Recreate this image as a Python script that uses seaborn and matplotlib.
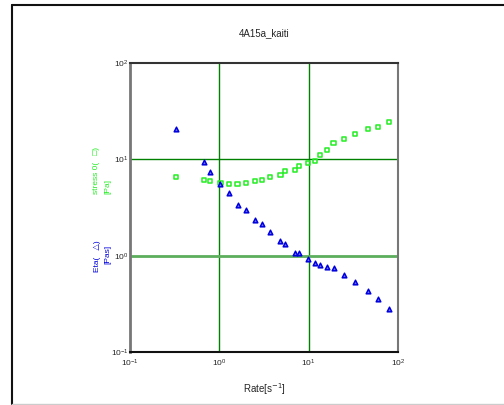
import numpy as np
import pandas as pd
import seaborn as sns
from matplotlib import pyplot as plt
from matplotlib.lines import Line2D
from matplotlib.ticker import LogLocator, LogFormatterMathtext, NullFormatter

rate = [0.327, 0.68, 0.787, 1.03, 1.27, 1.60, 1.99, 2.49, 2.98, 3.70, 4.83, 5.49,
        7.05, 7.86, 9.77, 11.7, 13.4, 15.9, 19.0, 25.0, 33.0, 45.8, 60.1, 79.7]
eta = [20.7, 9.4, 7.45, 5.6, 4.48, 3.38, 2.95, 2.33, 2.11, 1.78, 1.42, 1.32,
       1.06, 1.07, 0.93, 0.84, 0.80, 0.76, 0.745, 0.63, 0.53, 0.43, 0.355, 0.28]
stress = [6.56, 6.15, 6.0, 5.69, 5.55, 5.55, 5.72, 6.0, 6.15, 6.56, 6.93, 7.5,
          7.69, 8.6, 9.1, 9.7, 11.0, 12.6, 14.7, 16.2, 18.5, 20.5, 21.7, 24.2]

df = pd.DataFrame({'rate': rate, 'eta': eta, 'stress': stress})

sns.set_style('white')
plt.rcParams['font.family'] = ['Liberation Sans', 'DejaVu Sans']

fig = plt.figure(figsize=(5.04, 4.05), dpi=100)
ax = fig.add_axes([130 / 504, 1 - 352 / 405, 268 / 504, 289 / 405])

ax.set_xscale('log')
ax.set_yscale('log')
ax.set_xlim(0.1, 100)
ax.set_ylim(0.1, 100)

# green major grid
for v in [1, 10]:
  ax.axvline(v, color='#008000', lw=1, zorder=1)
ax.axhline(10, color='#008000', lw=1, zorder=1)
ax.axhline(1, color='#5cae5c', lw=2, zorder=1)

sns.scatterplot(data=df, x='rate', y='stress', marker='s', s=9, facecolor='none',
                edgecolor='#22ee22', linewidth=1.1, ax=ax, zorder=3)
sns.scatterplot(data=df, x='rate', y='eta', marker='^', s=11, color='#6f6fff',
                edgecolor='#0000dd', linewidth=1.1, ax=ax, zorder=3)

ax.xaxis.set_major_locator(LogLocator(base=10, numticks=10))
ax.yaxis.set_major_locator(LogLocator(base=10, numticks=10))
ax.xaxis.set_minor_locator(LogLocator(base=10, subs=np.arange(2, 10), numticks=20))
ax.yaxis.set_minor_locator(LogLocator(base=10, subs=np.arange(2, 10), numticks=20))
ax.xaxis.set_major_formatter(LogFormatterMathtext())
ax.yaxis.set_major_formatter(LogFormatterMathtext())
ax.xaxis.set_minor_formatter(NullFormatter())
ax.yaxis.set_minor_formatter(NullFormatter())
ax.tick_params(which='both', direction='in', labelsize=6, color='#222222', width=1)
ax.tick_params(which='major', length=3)
ax.tick_params(axis='x', which='major', pad=4)
ax.tick_params(axis='y', which='major', pad=1)
ax.tick_params(which='minor', length=2)

ax.spines['left'].set_color('#777777')
ax.spines['left'].set_linewidth(2)
ax.spines['right'].set_color('#777777')
ax.spines['right'].set_linewidth(1.5)
ax.spines['top'].set_color('#333333')
ax.spines['top'].set_linewidth(1.5)
ax.spines['bottom'].set_color('#111111')
ax.spines['bottom'].set_linewidth(1.5)

ax.set_xlabel('Rate[s$^{-1}$]', fontsize=7, labelpad=9)
ax.set_ylabel('')
ax.set_title('4A15a_kaiti', fontsize=7, pad=19)

# stacked, coloured y labels
fig.text(97 / 504, 1 - 194 / 405, 'stress 0(   \u25a1)', color='#22ee22', rotation=90,
         fontsize=6, ha='center', va='bottom', family=['Liberation Sans', 'DejaVu Sans'])
fig.text(108 / 504, 1 - 194 / 405, '[Pa]', color='#22ee22', rotation=90,
         fontsize=6, ha='center', va='bottom')
fig.text(97 / 504, 1 - 272 / 405, 'Eta(   \u25b3)', color='#0000dd', rotation=90,
         fontsize=6, ha='center', va='bottom', family=['Liberation Sans', 'DejaVu Sans'])
fig.text(108 / 504, 1 - 264 / 405, '[Pas]', color='#0000dd', rotation=90,
         fontsize=6, ha='center', va='bottom')

# outer frame
fig.add_artist(Line2D([12 / 504, 12 / 504], [1 / 405, 1 - 5 / 405], color='#111111', lw=1.5))
fig.add_artist(Line2D([12 / 504, 1], [1 - 5 / 405, 1 - 5 / 405], color='#111111', lw=1.5))
fig.add_artist(Line2D([12 / 504, 1], [1 / 405, 1 / 405], color='#cccccc', lw=1))

fig.savefig('out.png', dpi=100)
